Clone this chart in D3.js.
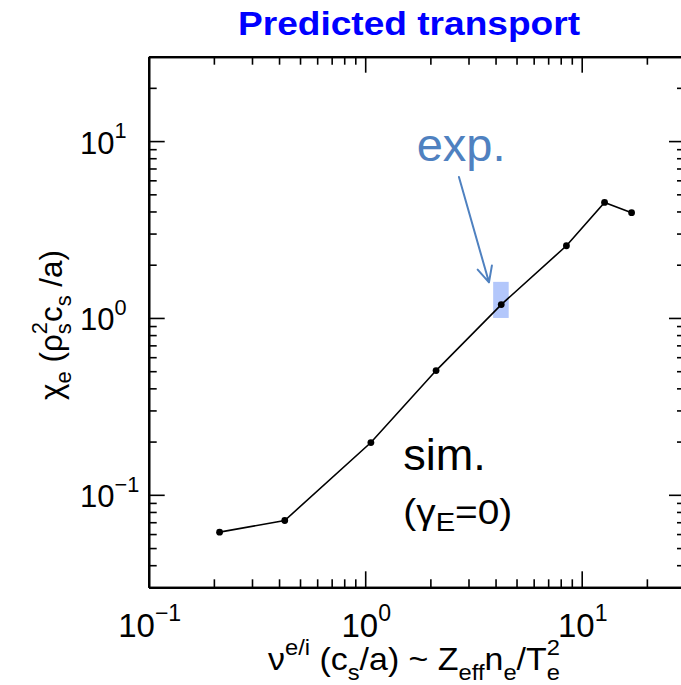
<!DOCTYPE html>
<html>
<head>
<meta charset="utf-8">
<script src="https://cdn.jsdelivr.net/npm/d3@7"></script>
<style>
  html, body { margin: 0; padding: 0; background: #fff; }
  svg { display: block; font-family: "Liberation Sans", Arial, Helvetica, sans-serif; }
  svg text { white-space: pre; }
</style>
</head>
<body>
<svg id="chart" width="681" height="685"></svg>
<script>
// Collisionality scan: electron heat diffusivity vs. electron-ion collision rate
const nu = [0.2125, 0.425, 1.0625, 2.125, 4.25, 8.5, 12.75, 17];
const chiE = [0.0615, 0.0716, 0.1975, 0.504, 1.19, 2.56, 4.50, 3.94];

// Experimental range (shaded box)
const expNu = [3.9, 4.6];
const expChi = [1.0, 1.6];

// Axis ranges and decade tick labels
const xDomain = [0.1, 30];
const yDomain = [0.03, 30];
const xMajor = [0.1, 1, 10];
const xMajorExp = ["\u22121", "0", "1"];
const yMajor = [0.1, 1, 10];
const yMajorExp = ["\u22121", "0", "1"];

const svg = d3.select("#chart");
const W = 681, H = 685;
const margin = { left: 148.7, right: W - 685, top: 56.7, bottom: H - 587.3 };

const x = d3.scaleLog().domain(xDomain).range([margin.left, W - margin.right]);
const y = d3.scaleLog().domain(yDomain).range([H - margin.bottom, margin.top]);

const FONT = "'Liberation Sans', Arial, Helvetica, sans-serif";

// Minor ticks at 2..9 x each decade, inside the domain
function minorTicks(domain) {
  const out = [];
  for (let e = -3; e <= 3; e++) {
    for (let m = 2; m <= 9; m++) {
      const v = m * Math.pow(10, e);
      if (v > domain[0] * 1.0001 && v < domain[1] * 0.9999) out.push(v);
    }
  }
  return out;
}

// Frame with inward ticks on all four sides
const axes = svg.append("g").attr("class", "axes");
const bigTick = 16, smallTick = 8;
function addAxis(axisGen, transform) {
  const g = axes.append("g").attr("transform", transform).call(axisGen);
  g.selectAll("text").remove();
  g.select(".domain").attr("stroke", "#000").attr("stroke-width", 2.2);
  g.selectAll(".tick line").attr("stroke", "#000").attr("stroke-width", 1.6);
  return g;
}
const xMinor = minorTicks(xDomain), yMinor = minorTicks(yDomain);
const yB = H - margin.bottom, yT = margin.top, xL = margin.left, xR = W - margin.right;

// bottom
addAxis(d3.axisBottom(x).tickValues(xMajor).tickSize(-bigTick).tickSizeOuter(0), `translate(0,${yB})`);
addAxis(d3.axisBottom(x).tickValues(xMinor).tickSize(-smallTick).tickSizeOuter(0), `translate(0,${yB})`);
// top
addAxis(d3.axisTop(x).tickValues(xMajor).tickSize(-bigTick).tickSizeOuter(0), `translate(0,${yT})`);
addAxis(d3.axisTop(x).tickValues(xMinor).tickSize(-smallTick).tickSizeOuter(0), `translate(0,${yT})`);
// left
addAxis(d3.axisLeft(y).tickValues(yMajor).tickSize(-bigTick).tickSizeOuter(0), `translate(${xL},0)`);
addAxis(d3.axisLeft(y).tickValues(yMinor).tickSize(-smallTick).tickSizeOuter(0), `translate(${xL},0)`);
// right
addAxis(d3.axisRight(y).tickValues(yMajor).tickSize(-bigTick).tickSizeOuter(0), `translate(${xR},0)`);
addAxis(d3.axisRight(y).tickValues(yMinor).tickSize(-smallTick).tickSizeOuter(0), `translate(${xR},0)`);

// ---- rich text helper (super/subscripts, stacked sup+sub) ----
const measurer = svg.append("text").attr("visibility", "hidden");
function textWidth(t, size) {
  measurer.attr("font-family", FONT).attr("font-size", size).text(t);
  return measurer.node().getComputedTextLength();
}
// parts: {t, k:'n'|'sup'|'sub', stack:true => sits under previous sup}
function richText(parent, parts, opt) {
  const size = opt.size, ss = size * (opt.scriptScale || 0.64);
  const supDy = -(opt.supShift || 0.42) * size, subDy = (opt.subShift || 0.30) * size;
  let cx = 0, prevStart = 0, prevW = 0;
  const laid = [];
  parts.forEach(p => {
    const fs = p.k === "n" ? size : ss;
    const w = textWidth(p.t, fs);
    let px = cx;
    if (p.stack) {
      px = prevStart;
      cx = Math.max(prevStart + prevW, prevStart + w);
    } else {
      cx += w;
    }
    laid.push({ ...p, fs, px, dy: p.k === "sup" ? supDy : p.k === "sub" ? subDy : 0 });
    prevStart = px; prevW = w;
  });
  const total = cx;
  const sx = opt.width ? opt.width / total : 1;
  const off = opt.anchor === "middle" ? -total / 2 : opt.anchor === "end" ? -total : 0;
  const g = parent.append("g")
    .attr("transform", `translate(${opt.x},${opt.y})${opt.rotate ? ` rotate(${opt.rotate})` : ""} scale(${sx},1)`);
  const txt = g.append("text").attr("font-family", FONT).attr("fill", opt.fill || "#000");
  laid.forEach(p => {
    txt.append("tspan")
      .attr("x", p.px + off)
      .attr("y", p.dy)
      .attr("font-size", p.fs)
      .text(p.t);
  });
  return g;
}

// Tick labels: 10^n
xMajor.forEach((v, i) => {
  richText(svg, [{ t: "10", k: "n" }, { t: xMajorExp[i], k: "sup" }],
    { x: x(v) + 1, y: 637, size: 33, anchor: "middle", scriptScale: 0.7, supShift: 0.5 });
});
yMajor.forEach((v, i) => {
  richText(svg, [{ t: "10", k: "n" }, { t: yMajorExp[i], k: "sup" }],
    { x: 80, y: y(v) + 12.5, size: 31, anchor: "start", scriptScale: 0.7, supShift: 0.5 });
});

// Axis titles
richText(svg, [
  { t: "\u03bd", k: "n" }, { t: "e/i", k: "sup" },
  { t: " (c", k: "n" }, { t: "s", k: "sub" },
  { t: "/a) ~ Z", k: "n" }, { t: "eff", k: "sub" },
  { t: "n", k: "n" }, { t: "e", k: "sub" },
  { t: "/T", k: "n" }, { t: "2", k: "sup" }, { t: "e", k: "sub", stack: true }
], { x: 414, y: 670, size: 31, anchor: "middle", scriptScale: 0.7, supShift: 0.47, subShift: 0.33, width: 292 });

richText(svg, [
  { t: "\u03c7", k: "n" }, { t: "e", k: "sub" },
  { t: " (\u03c1", k: "n" }, { t: "2", k: "sup" }, { t: "s", k: "sub", stack: true },
  { t: "c", k: "n" }, { t: "s", k: "sub" },
  { t: " /a)", k: "n" }
], { x: 62, y: 325, size: 31, anchor: "middle", rotate: -90, scriptScale: 0.7, supShift: 0.47, subShift: 0.3, width: 150 });

// Title
svg.append("text")
  .attr("x", 409).attr("y", 35)
  .attr("text-anchor", "middle")
  .attr("font-family", FONT)
  .attr("font-weight", "bold")
  .attr("font-size", 34)
  .attr("fill", "#0000ff")
  .attr("textLength", 342)
  .attr("lengthAdjust", "spacingAndGlyphs")
  .text("Predicted transport");

// Experimental range box
svg.append("rect")
  .attr("x", x(expNu[0]))
  .attr("y", y(expChi[1]))
  .attr("width", x(expNu[1]) - x(expNu[0]))
  .attr("height", y(expChi[0]) - y(expChi[1]))
  .attr("fill", "#b3c7fb");

// Simulation curve
const pts = nu.map((v, i) => [v, chiE[i]]);
svg.append("path")
  .datum(pts)
  .attr("fill", "none")
  .attr("stroke", "#000")
  .attr("stroke-width", 1.6)
  .attr("d", d3.line().x(d => x(d[0])).y(d => y(d[1])));
svg.append("g").selectAll("circle")
  .data(pts).join("circle")
  .attr("cx", d => x(d[0])).attr("cy", d => y(d[1]))
  .attr("r", 3.4).attr("fill", "#000");

// Annotation: "exp." with arrow to the box
const expColor = "#4f81c0";
const arrowFrom = [2.71, 6.26], arrowTo = [3.73, 1.59];
const ax0 = x(arrowFrom[0]), ay0 = y(arrowFrom[1]), ax1 = x(arrowTo[0]), ay1 = y(arrowTo[1]);
const ang = Math.atan2(ay1 - ay0, ax1 - ax0), headLen = 17, headAng = 0.45;
svg.append("path")
  .attr("fill", "none").attr("stroke", expColor).attr("stroke-width", 2)
  .attr("stroke-linecap", "round").attr("stroke-linejoin", "round")
  .attr("d", `M${ax0},${ay0}L${ax1},${ay1}` +
    `M${ax1 - headLen * Math.cos(ang - headAng)},${ay1 - headLen * Math.sin(ang - headAng)}L${ax1},${ay1}` +
    `L${ax1 - headLen * Math.cos(ang + headAng)},${ay1 - headLen * Math.sin(ang + headAng)}`);
svg.append("text")
  .attr("x", x(1.73)).attr("y", y(7.74))
  .attr("font-family", FONT).attr("font-size", 47).attr("fill", expColor)
  .text("exp.");

// Annotation: simulation label
svg.append("text")
  .attr("x", x(1.50)).attr("y", y(0.1377))
  .attr("font-family", FONT).attr("font-size", 45).attr("fill", "#000")
  .text("sim.");
richText(svg, [
  { t: "(\u03b3", k: "n" }, { t: "E", k: "sub" }, { t: "=0)", k: "n" }
], { x: x(1.50), y: y(0.0687), size: 35, anchor: "start", scriptScale: 0.75, subShift: 0.22, width: 109 });

measurer.remove();
</script>
</body>
</html>
